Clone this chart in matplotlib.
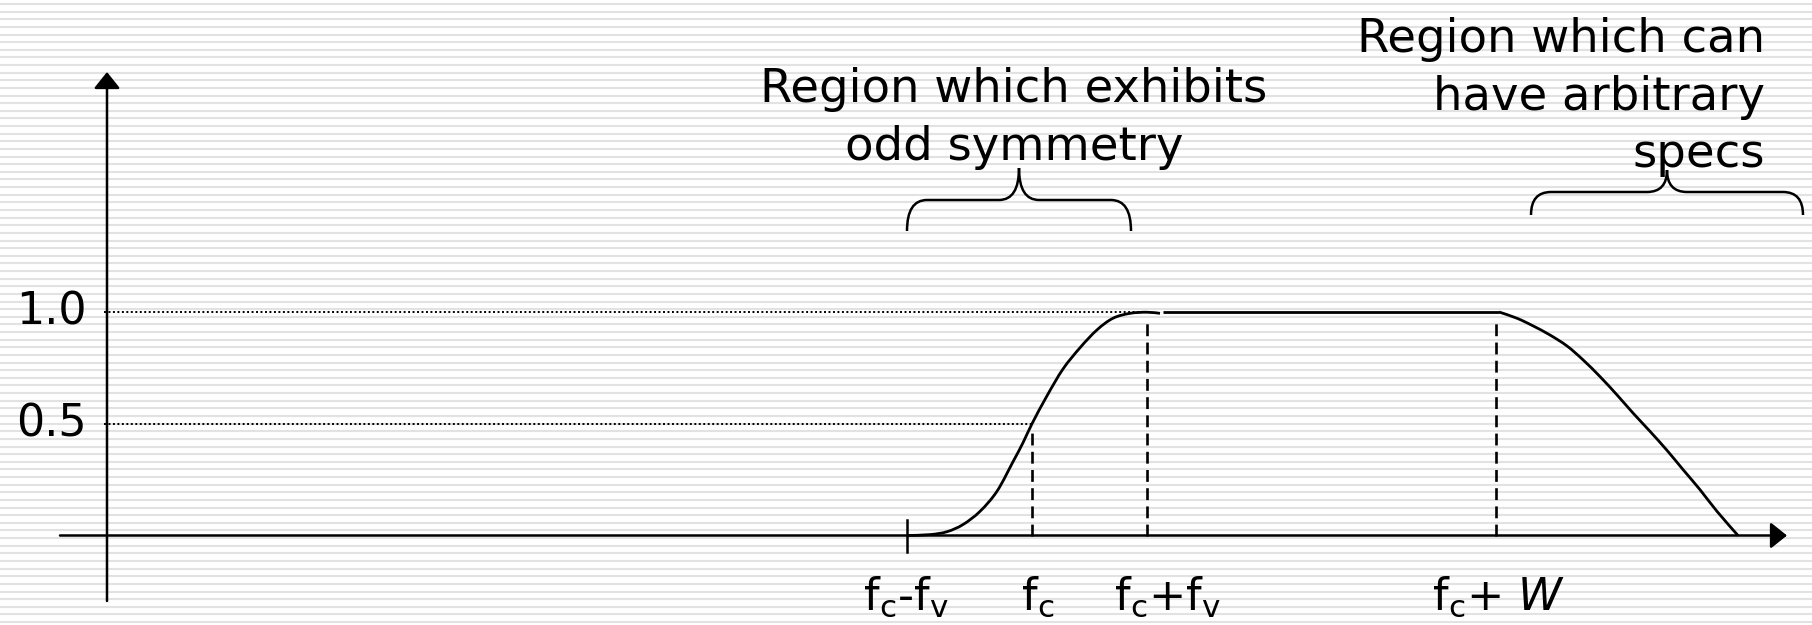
import numpy as np
import matplotlib.pyplot as plt
from matplotlib.path import Path
from matplotlib.patches import PathPatch

# frequency marks on the horizontal axis (arbitrary units)
tick_pos = [9.07, 10.32, 11.47, 14.96]
tick_labels = ['f$_\\mathregular{c}$-f$_\\mathregular{v}$',
               'f$_\\mathregular{c}$',
               'f$_\\mathregular{c}$+f$_\\mathregular{v}$',
               'f$_\\mathregular{c}$+ $\\mathit{W}$']
label_x = [9.06, 10.38, 11.68, 14.99]

levels = [0.5, 1.0]
level_labels = ['0.5', '1.0']
level_ends = [10.32, 11.43]

# rising (odd symmetric) edge
rise_x = [9.07, 9.30, 9.47, 9.63, 9.80, 9.97, 10.13, 10.23, 10.32, 10.47,
          10.63, 10.80, 10.97, 11.13, 11.30, 11.47, 11.60]
rise_y = [0.0, 0.004, 0.017, 0.049, 0.108, 0.198, 0.33, 0.415, 0.50, 0.625,
          0.745, 0.840, 0.920, 0.972, 0.994, 0.999, 0.994]

# flat passband
top_x = [11.63, 14.99]
top_y = [1.0, 1.0]

# arbitrary roll-off
fall_x = [14.99, 15.17, 15.33, 15.50, 15.67, 15.83, 16.00, 16.17, 16.33,
          16.50, 16.67, 16.83, 17.00, 17.17, 17.38]
fall_y = [1.0, 0.972, 0.938, 0.897, 0.848, 0.786, 0.711, 0.629, 0.548,
          0.466, 0.381, 0.295, 0.205, 0.108, 0.0]

# dashed guides: position, height
guide_x = [10.32, 11.47, 14.96]
guide_top = [0.47, 0.964, 0.97]

# annotated regions
left_span = [9.07, 11.31]
left_lines = ['Region which exhibits', 'odd symmetry']
right_span = [15.31, 18.03]
right_lines = ['Region which can', 'have arbitrary', 'specs']

FS_TEXT = 33.5
FS_LAB = 32


def y_of(py):
    # vertical pixel position -> data units
    return (535.5 - py) / 223.5


def smooth(xs, ys):
    # bezier path through the read points (catmull-rom handles)
    p = np.column_stack([xs, ys])
    ext = np.vstack([p[0], p, p[-1]])
    verts = [p[0]]
    codes = [Path.MOVETO]
    for i in range(len(p) - 1):
        a, b, c, d = ext[i], ext[i + 1], ext[i + 2], ext[i + 3]
        verts += [b + (c - a) / 6, c - (d - b) / 6, c]
        codes += [Path.CURVE4] * 3
    return Path(verts, codes)


def brace(ax, x0, x1, yb, yf, yt, dx=0.2):
    xm = (x0 + x1) / 2
    verts = [(x0, yb), (x0, yf), (x0 + dx, yf), (xm - dx, yf), (xm, yf), (xm, yt),
             (xm, yf), (xm + dx, yf), (x1 - dx, yf), (x1, yf), (x1, yb)]
    codes = [Path.MOVETO, Path.CURVE3, Path.CURVE3, Path.LINETO, Path.CURVE3,
             Path.CURVE3, Path.CURVE3, Path.CURVE3, Path.LINETO, Path.CURVE3,
             Path.CURVE3]
    ax.add_patch(PathPatch(Path(verts, codes), fill=False, lw=1.8, color='black'))


fig = plt.figure(figsize=(18.12, 6.25), dpi=100)

# striped slide background
bg = fig.add_axes([0, 0, 1, 1], zorder=-1)
bg.set_xlim(0, 1)
bg.set_ylim(625, 0)
bg.axis('off')
for yp in np.arange(4.0, 625, 7.63):
    bg.axhline(yp, color='#e2e2e2', lw=1.5)

ax = fig.add_axes([0, 0, 1, 1])
ax.set_facecolor('none')
ax.set_xlim(0, 18.12)
ax.set_ylim(y_of(625), y_of(0))
ax.axis('off')

# axes with arrow heads
arrow = dict(arrowstyle='-|>,head_length=1.0,head_width=0.8', lw=1.8,
             color='black', mutation_scale=10, shrinkA=0, shrinkB=0)
ax.annotate('', xy=(17.87, 0), xytext=(0.60, 0), arrowprops=arrow)
ax.annotate('', xy=(1.07, y_of(72)), xytext=(1.07, y_of(601)), arrowprops=arrow)

# response curve
ax.add_patch(PathPatch(smooth(rise_x, rise_y), fill=False, lw=2.0, color='black'))
ax.plot(top_x, top_y, color='black', lw=2.0, solid_capstyle='butt')
ax.add_patch(PathPatch(smooth(fall_x, fall_y), fill=False, lw=2.0, color='black'))

# level lines
for lv, lab, xe in zip(levels, level_labels, level_ends):
    ax.plot([1.04, xe], [lv, lv], color='black', lw=1.4, linestyle=(0, (1, 1.3)))
    ax.text(0.87, lv, lab, fontsize=FS_LAB, ha='right', va='center')

# dashed guides
for gx, gt in zip(guide_x, guide_top):
    ax.plot([gx, gx], [0, gt], color='black', lw=1.9, linestyle=(0, (4.5, 2.4)))

# tick at f_c - f_v
ax.plot([tick_pos[0], tick_pos[0]], [-0.074, 0.069], color='black', lw=1.8)

for lx, lab in zip(label_x, tick_labels):
    ax.text(lx, y_of(610), lab, fontsize=FS_LAB, ha='center', va='baseline')

# region annotations
for i, line in enumerate(left_lines):
    ax.text(10.14, y_of(102 + 57.5 * i), line, fontsize=FS_TEXT,
            ha='center', va='baseline')
for i, line in enumerate(right_lines):
    ax.text(17.65, y_of(52 + 57.5 * i), line, fontsize=FS_TEXT,
            ha='right', va='baseline')

brace(ax, left_span[0], left_span[1], y_of(231), y_of(200), y_of(168))
brace(ax, right_span[0], right_span[1], y_of(215), y_of(192), y_of(170))

fig.savefig('out.png', dpi=100)
